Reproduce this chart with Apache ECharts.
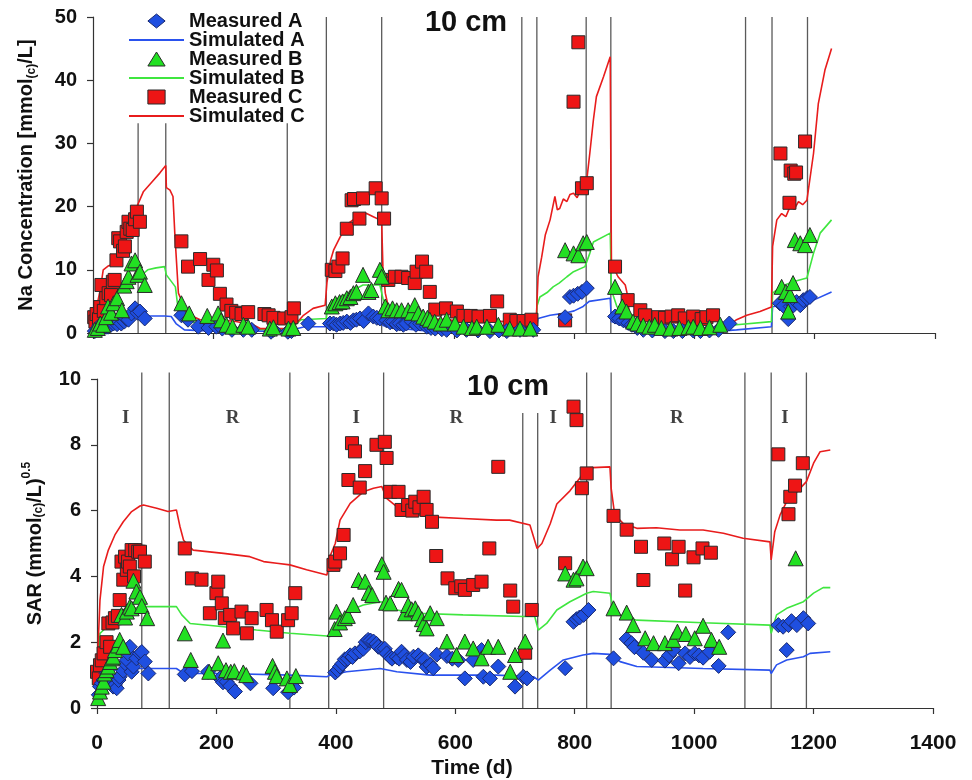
<!DOCTYPE html>
<html><head><meta charset="utf-8">
<script src="https://cdn.jsdelivr.net/npm/echarts@6/dist/echarts.min.js"></script>
<style>html,body{margin:0;padding:0;background:#fff}#chart{width:972px;height:780px}</style>
</head><body><div id="chart"></div>
<script>
// ---------- Phase boundaries (days) and labels ----------
const phaseDays = [75, 121, 323, 388, 480, 713, 738, 820, 861, 1085, 1129, 1188];
const naPhaseTop = [33.2, 33.2, 33.2, 50, 50, 50, 50, 50, 50, 50, 50, 50];
const sarPhaseTop = [10.2, 10.2, 10.2, 10.2, 10.2, 8.97, 8.97, 10.2, 10.2, 10.2, 10.2, 10.2];
const phaseLabels = ['I', 'R', 'I', 'R', 'I', 'R', 'I'];
const phaseLabelDays = [48, 227, 434, 602, 764, 971, 1152];
const phaseLabelLevel = 8.8;
const xTicks = [0, 200, 400, 600, 800, 1000, 1200, 1400];

// ---------- Na concentration (top) ----------
const naMeasA = [
[3,0.3],[8,0.6],[11,1.2],[16,0.8],[22,1.0],[25,1.0],[30,1.3],[34,1.5],[40,1.4],[47,1.5],[52,1.8],[55,2.3],[59,2.1],[64,3.1],[70,3.9],[74,3.2],[78,3.4],[86,2.3],
[147,2.8],[158,2.1],[175,1.0],[192,0.8],[205,1.0],[215,0.7],[231,0.5],[250,0.5],[264,0.5],[296,0.2],[300,0.5],[324,0.2],[330,0.3],[358,1.5],
[394,1.5],[400,1.5],[405,1.3],[411,1.5],[416,1.6],[422,1.8],[428,1.6],[433,2.0],[438,2.1],[444,2.3],[450,1.9],[458,3.1],[466,2.6],[472,2.4],[477,2.3],
[488,2.0],[494,1.7],[499,1.8],[505,1.4],[510,1.5],[516,1.3],[521,1.5],[530,1.8],[537,1.3],[544,1.5],[555,1.0],[562,0.8],[569,0.7],[580,0.6],[588,0.5],[605,0.4],[621,0.5],[640,0.4],[660,0.3],[675,0.4],[688,0.3],[710,0.5],[732,0.5],
[785,2.5],[793,5.7],[799,5.9],[806,6.2],[813,6.5],[821,7.1],
[868,2.6],[875,2.3],[882,2.0],[890,1.6],[896,1.3],[905,0.8],[915,0.5],[930,0.4],[951,0.3],[965,0.3],[980,0.3],[998,0.4],[1010,0.3],[1025,0.4],[1040,0.5],[1058,1.5],
[1142,4.7],[1148,4.3],[1156,2.2],[1160,4.2],[1165,4.4],[1170,4.9],[1176,4.4],[1181,5.2],[1187,5.5],[1192,5.7]
];
const naMeasB = [
[3,0.5],[8,0.8],[12,1.5],[17,1.3],[22,2.5],[25,4.2],[30,3.2],[34,4.7],[40,5.5],[48,3.6],[52,7.5],[56,8.2],[59,8.9],[64,11],[70,11.5],[74,9.2],[78,9.7],[86,7.6],
[147,4.7],[160,3.1],[190,2.7],[208,3.1],[213,2.0],[222,1.3],[232,1.0],[250,1.3],[258,1.0],[294,0.7],[300,0.9],[325,0.7],[333,0.8],
[397,4.2],[403,4.7],[410,4.9],[415,5.0],[422,5.5],[428,5.7],[433,6.3],[438,6.5],[449,9.2],[458,6.5],[463,6.8],[477,10],[480,8.9],
[486,4.2],[491,3.6],[498,3.9],[505,3.6],[513,3.6],[524,3.6],[530,3.2],[535,4.4],[541,3.1],[549,2.6],[556,2.4],[560,2.1],[568,1.8],[578,1.5],[588,2.1],[602,1.5],[616,1.0],[630,0.8],[638,1.0],[655,1.0],[674,1.3],[693,0.7],[710,0.7],[727,0.7],
[785,13.1],[799,12.6],[807,12.3],[815,14.2],[821,14.4],
[868,7.3],[880,4.2],[887,3.4],[898,1.8],[905,1.5],[915,1.2],[925,1.0],[934,1.3],[945,0.8],[960,0.7],[975,0.8],[990,0.9],[998,1.0],[1010,0.8],[1025,0.9],[1043,1.3],
[1145,7.3],[1152,6.5],[1156,3.4],[1159,6.0],[1164,7.9],[1167,14.7],[1176,14.2],[1184,13.9],[1192,15.5]
];
const naMeasC = [
[2,2.5],[4,1.8],[6,3.0],[10,2.2],[12,4.1],[14,7.6],[18,3.5],[22,5.5],[26,6.3],[30,6.0],[33,8.1],[36,8.4],[39,11.5],[42,15],[45,14.5],[50,13],[53,13.7],[56,16],[59,17.6],[62,16.5],[66,16.3],[70,18],[73,19.2],[78,17.6],
[147,14.5],[158,10.5],[178,11.7],[192,8.4],[200,10.8],[206,9.9],[211,6.2],[222,4.5],[230,3.5],[238,3.2],[247,3.0],[258,3.3],[285,3.0],[292,2.8],[300,2.4],[318,2.3],[330,2.5],[334,3.9],
[397,10],[403,9.8],[408,10.5],[415,11.8],[422,16.5],[430,21],[434,21.2],[443,18.1],[449,21.3],[470,22.9],[480,21.3],[484,18.1],
[491,8.4],[502,8.9],[513,8.9],[524,8.7],[535,7.9],[538,9.7],[547,11.3],[554,9.7],[560,6.5],[569,3.7],[587,3.9],[605,3.4],[616,2.7],[628,2.7],[641,2.6],[660,2.7],[672,5.0],[693,2.1],[704,1.9],[716,1.9],[729,2.1],
[785,2.0],[799,36.6],[807,46],[813,22.9],[821,23.7],
[868,10.5],[889,5.2],[910,3.6],[918,2.8],[940,2.5],[951,2.4],[962,2.6],[973,2.8],[984,2.3],[998,2.6],[1012,2.2],[1020,2.5],[1031,2.8],
[1143,28.4],[1158,20.6],[1160,25.7],[1166,25.2],[1169,25.4],[1184,30.3]
];
const naSimA = [
[0,0.2],[10,0.8],[25,1.5],[45,2.3],[58,2.7],[119,2.7],[130,2.6],[138,1.5],[152,0.5],[200,0.3],[323,0.3],[335,0.6],[352,1.0],[388,1.0],[395,1.4],[440,2.0],[477,2.3],[482,1.2],[500,0.8],[560,0.3],[713,0.3],[737,0.4],[740,2.3],[760,2.8],[782,3.1],[800,3.5],[815,4.2],[825,5.0],[860,5.5],[862,1.8],[893,0.7],[920,0.3],[1040,0.3],[1070,0.5],[1128,1.0],[1130,4.2],[1160,4.3],[1187,4.4],[1198,5.2],[1228,6.5]
];
const naSimB = [
[0,0.3],[5,1.5],[12,3.6],[28,5],[45,7.3],[60,7.9],[75,8.7],[91,10],[105,10.3],[119,10.5],[122,9.2],[137,7.3],[141,4.2],[150,2.1],[175,1.5],[213,1.0],[260,0.6],[323,0.5],[335,1.2],[346,2.1],[388,2.3],[390,4.0],[394,4.7],[411,5.7],[433,6.8],[449,7.6],[477,7.6],[482,5.5],[487,4.2],[500,3.0],[530,1.8],[560,1.0],[600,0.6],[713,0.6],[737,0.8],[738,4.2],[743,5.7],[755,6.4],[765,7.3],[775,7.9],[788,8.9],[799,9.7],[818,10.5],[826,12.6],[832,14.4],[860,15.8],[862,6.8],[871,4.2],[890,2.1],[910,1.0],[1040,0.7],[1070,1.3],[1128,1.8],[1130,6.3],[1145,7.4],[1164,8.1],[1187,8.7],[1198,12.6],[1209,15.8],[1228,17.9]
];
const naSimC = [
[0,1.5],[3,3.0],[8,5.0],[12,6.8],[17,10],[25,10.6],[37,11],[45,13.1],[56,15.8],[64,17.9],[73,20],[84,22.4],[98,23.9],[111,25.3],[121,26.5],[122,23],[128,22.6],[133,21.6],[136,15.8],[142,6.3],[147,5.2],[156,3.1],[178,2.1],[233,1.9],[266,1.3],[278,0.7],[322,0.7],[333,1.0],[350,2.8],[366,3.9],[386,4.4],[389,8],[395,11.5],[400,13.1],[411,15.2],[425,17.4],[444,18.7],[455,18.9],[466,18.4],[477,17.9],[480,17.5],[482,10.5],[486,6.3],[491,4.2],[505,3.3],[530,2.7],[560,2.3],[600,2.0],[650,1.9],[690,1.8],[713,1.8],[737,1.9],[738,4.4],[740,8.9],[746,12],[752,15.5],[760,17.9],[768,21.6],[772,19.5],[776,19.7],[782,21.2],[788,20.8],[793,21.9],[799,22.1],[805,21.4],[810,22.6],[816,22.8],[821,24.2],[826,28.4],[832,33.7],[837,37.4],[849,40.6],[860,43.7],[862,11],[873,8.9],[885,7.6],[888,6.3],[893,2.1],[910,1.2],[950,0.8],[1040,0.8],[1059,1.3],[1070,2.1],[1087,2.8],[1109,3.4],[1128,4.1],[1130,13.7],[1137,17.9],[1145,18.9],[1152,18.4],[1159,20],[1166,19.6],[1173,20.8],[1180,20.3],[1187,21],[1198,28.4],[1206,36.3],[1217,41.6],[1228,45]
];

// ---------- SAR (bottom) ----------
const sarMeasA = [
[3,0.4],[5,0.65],[8,0.75],[11,0.85],[16,1.05],[22,0.8],[27,0.65],[30,0.7],[33,0.6],[36,0.85],[38,0.95],[44,1.13],[47,1.36],[50,1.46],[52,1.66],[55,1.86],[58,1.1],[61,1.26],[66,1.51],[72,1.66],[75,1.7],[80,1.41],[86,1.05],
[147,1.02],[159,1.12],[186,1.1],[206,0.9],[211,0.78],[217,0.8],[223,0.67],[231,0.5],[257,0.75],[295,0.6],[320,0.48],[330,0.62],
[399,1.08],[403,1.15],[407,1.26],[411,1.35],[415,1.48],[420,1.5],[424,1.6],[428,1.55],[432,1.66],[440,1.72],[446,1.8],[450,2.0],[454,2.07],[458,2.05],[463,2.02],[468,1.95],[471,1.86],[477,1.8],
[482,1.8],[485,1.66],[491,1.55],[494,1.5],[502,1.55],[506,1.5],[510,1.71],[515,1.6],[519,1.46],[525,1.4],[530,1.56],[538,1.6],[544,1.5],[549,1.46],[552,1.25],[558,1.31],[563,1.21],[569,1.62],[586,1.58],[595,1.5],[605,1.46],[616,0.9],[630,1.46],[644,1.76],[647,0.95],[658,0.9],[672,1.26],[700,0.65],[714,0.95],[720,0.9],
[784,1.21],[798,2.62],[803,2.7],[808,2.75],[815,2.83],[823,2.98],
[865,1.51],[887,2.1],[895,1.97],[900,1.85],[915,1.68],[929,1.46],[951,1.44],[958,1.6],[965,1.76],[974,1.36],[985,1.66],[993,1.55],[1001,1.66],[1008,1.6],[1015,1.53],[1026,1.71],[1041,1.28],[1057,2.3],
[1141,2.52],[1149,2.47],[1155,1.76],[1158,2.52],[1163,2.64],[1172,2.52],[1183,2.73],[1191,2.57]
];
const sarMeasB = [
[2,0.3],[5,0.5],[8,0.65],[11,0.8],[13,1.05],[16,1.15],[19,1.26],[22,1.4],[25,1.51],[27,1.56],[30,1.76],[35,1.9],[38,2.07],[41,2.83],[44,1.86],[47,2.75],[50,2.93],[55,3.08],[58,3.03],[61,3.87],[66,3.54],[72,3.38],[75,3.1],[84,2.73],
[147,2.27],[157,1.46],[188,1.1],[203,1.36],[211,2.05],[216,1.15],[224,1.1],[230,1.12],[245,1.08],[250,1.0],[294,1.28],[298,1.1],[301,0.97],[318,0.9],[323,0.7],[333,0.97],
[398,2.4],[401,2.93],[407,2.6],[415,2.73],[420,2.8],[429,3.13],[438,3.89],[449,3.84],[455,3.5],[461,3.43],[477,4.37],[480,4.14],
[484,3.2],[491,3.18],[505,3.62],[510,3.59],[516,2.88],[521,3.13],[527,3.0],[533,3.03],[538,2.88],[544,2.7],[547,2.55],[552,2.42],[558,2.88],[569,2.73],[586,2.02],[602,1.61],[616,2.02],[630,1.81],[644,1.51],[655,1.86],[672,1.86],[692,1.1],[700,1.61],[717,2.02],
[784,4.09],[798,3.9],[803,3.94],[814,4.3],[820,4.25],
[865,3.03],[887,2.9],[898,2.52],[918,2.12],[932,1.97],[951,1.97],[965,2.07],[972,2.32],[986,2.25],[1001,2.12],[1015,2.5],[1029,2.07],[1042,1.86],
[1170,4.55]
];
const sarMeasC = [
[0,1.1],[3,0.9],[5,1.3],[8,1.45],[11,1.66],[16,2.0],[19,2.57],[22,1.86],[26,2.6],[30,2.73],[35,2.8],[38,3.28],[41,4.45],[44,3.9],[47,4.6],[50,4.2],[52,4.45],[55,4.3],[58,4.8],[62,4.0],[64,4.8],[69,4.75],[72,4.75],[80,4.45],
[147,4.85],[159,3.94],[175,3.9],[189,2.88],[200,3.49],[203,3.84],[209,3.18],[214,2.73],[223,2.83],[228,2.42],[242,2.93],[251,2.27],[259,2.73],[284,2.98],[293,2.67],[301,2.32],[320,2.67],[326,2.88],[332,3.49],
[396,4.35],[399,4.45],[407,4.7],[413,5.26],[421,6.93],[427,8.05],[432,7.8],[440,6.7],[449,7.2],[468,8.0],[482,8.09],[485,7.6],
[491,6.57],[505,6.57],[510,6.02],[521,6.17],[528,6.0],[533,6.27],[540,6.1],[547,6.42],[552,6.02],[561,5.66],[568,4.62],[587,3.94],[600,3.64],[610,3.7],[616,3.59],[630,3.74],[644,3.84],[657,4.85],[672,7.33],[692,3.57],[697,3.08],[717,1.68],[728,2.98],
[784,4.4],[798,9.16],[803,8.75],[812,6.68],[820,7.13],
[865,5.84],[887,5.42],[911,4.9],[915,3.89],[950,5.0],[963,4.52],[974,4.9],[985,3.57],[999,4.58],[1014,4.85],[1028,4.72],
[1141,7.71],[1158,5.89],[1161,6.42],[1169,6.76],[1182,7.44]
];
const sarSimA = [
[0,0.3],[5,0.9],[11,1.1],[22,1.15],[72,1.2],[133,1.2],[145,1.05],[212,1.05],[323,1.0],[385,0.95],[390,1.0],[418,1.1],[474,1.2],[502,1.1],[558,1.0],[669,1.0],[731,0.95],[739,0.85],[759,1.15],[781,1.46],[814,1.61],[831,1.66],[859,1.63],[876,1.41],[904,1.26],[1015,1.2],[1127,1.15],[1129,1.05],[1138,1.31],[1155,1.46],[1183,1.56],[1194,1.66],[1228,1.71]
];
const sarSimB = [
[0,0.3],[3,1.5],[5,2.27],[11,2.37],[27,2.78],[50,2.98],[72,3.08],[133,3.08],[142,2.83],[156,2.57],[212,2.47],[267,2.37],[323,2.27],[385,2.19],[390,2.17],[401,2.57],[424,2.98],[446,3.13],[474,3.23],[482,3.2],[502,2.98],[535,2.88],[613,2.83],[714,2.78],[733,2.78],[739,2.37],[753,2.57],[770,2.98],[792,3.23],[820,3.49],[831,3.54],[859,3.49],[862,3.23],[876,2.83],[904,2.67],[1015,2.59],[1127,2.52],[1129,2.27],[1138,2.83],[1155,3.03],[1183,3.23],[1200,3.49],[1216,3.66],[1228,3.66]
];
const sarSimC = [
[0,0.65],[2,1.97],[5,3.28],[11,4.3],[19,4.8],[30,5.26],[44,5.66],[58,5.97],[72,6.14],[78,6.17],[100,6.07],[119,5.97],[133,6.02],[139,5.51],[145,5.1],[161,4.8],[212,4.7],[256,4.6],[279,4.45],[301,4.4],[323,4.35],[351,4.2],[385,4.04],[390,4.6],[399,5.0],[407,5.71],[424,6.22],[446,6.57],[463,6.68],[477,6.73],[485,6.37],[502,6.12],[524,5.92],[558,5.81],[613,5.76],[669,5.71],[691,5.71],[725,5.56],[737,4.85],[745,5.0],[759,5.6],[770,6.2],[792,6.6],[809,7.0],[820,7.3],[859,7.33],[861,6.68],[867,5.87],[881,5.61],[904,5.46],[937,5.48],[976,5.41],[1015,5.41],[1049,5.31],[1082,5.16],[1127,5.05],[1129,4.5],[1135,5.36],[1144,5.87],[1155,6.27],[1172,6.57],[1188,6.88],[1200,7.44],[1211,7.79],[1228,7.84]
];

// ---------- Styles ----------
const FONT = 'Liberation Sans';
const colA = '#1f4fe0', colB = '#22e022', colC = '#ee1515';
const lineA = '#2a52ee', lineB = '#3fe63f', lineC = '#e81c1c';
const markBorder = '#2a2a2a';

function phaseData(tops) {
  const d = [];
  phaseDays.forEach((x, i) => { d.push([x, 0]); d.push([x, tops[i]]); d.push([x, '-']); });
  return d;
}

function panelSeries(gi, measA, measB, measC, simA, simB, simC, tops) {
  const base = { xAxisIndex: gi, yAxisIndex: gi };
  return [
    Object.assign({ type: 'line', name: 'phase', data: phaseData(tops), symbol: 'none', clip: false,
      lineStyle: { color: '#5a5a5a', width: 1.3 }, silent: true, z: 1, connectNulls: false }, base),
    Object.assign({ type: 'line', name: 'Simulated A', data: simA, symbol: 'none', lineStyle: { color: lineA, width: 1.6 }, itemStyle: { color: lineA }, z: 2 }, base),
    Object.assign({ type: 'line', name: 'Simulated B', data: simB, symbol: 'none', lineStyle: { color: lineB, width: 1.6 }, itemStyle: { color: lineB }, z: 2 }, base),
    Object.assign({ type: 'line', name: 'Simulated C', data: simC, symbol: 'none', lineStyle: { color: lineC, width: 1.6 }, itemStyle: { color: lineC }, z: 2 }, base),
    Object.assign({ type: 'scatter', name: 'Measured C', data: measC, symbol: 'rect', symbolSize: 13,
      itemStyle: { color: colC, borderColor: markBorder, borderWidth: 1, opacity: 1 }, z: 3 }, base),
    Object.assign({ type: 'scatter', name: 'Measured A', data: measA, symbol: 'diamond', symbolSize: 15,
      itemStyle: { color: colA, borderColor: '#1a2a70', borderWidth: 1, opacity: 1 }, z: 4 }, base),
    Object.assign({ type: 'scatter', name: 'Measured B', data: measB, symbol: 'triangle', symbolSize: 15,
      itemStyle: { color: colB, borderColor: markBorder, borderWidth: 1, opacity: 1 }, z: 5 }, base)
  ];
}

const axisLineStyle = { lineStyle: { color: '#333', width: 1.2 } };
const tickStyle = { show: true, length: 6, inside: false, lineStyle: { color: '#333', width: 1.2 } };
const labelFont = { fontFamily: FONT, fontWeight: 'bold', fontSize: 20, color: '#111' };
const plainNum = v => String(v);

const chart = echarts.init(document.getElementById('chart'), null, { renderer: 'canvas' });
const series = [].concat(
  panelSeries(0, naMeasA, naMeasB, naMeasC, naSimA, naSimB, naSimC, naPhaseTop),
  panelSeries(1, sarMeasA, sarMeasB, sarMeasC, sarSimA, sarSimB, sarSimC, sarPhaseTop),
  [{
    type: 'scatter', xAxisIndex: 1, yAxisIndex: 1, name: 'phaseLabels', silent: true,
    symbolSize: 1, itemStyle: { color: 'rgba(0,0,0,0)' }, z: 6,
    data: phaseLabels.map((t, i) => ({ name: t, value: [phaseLabelDays[i], phaseLabelLevel] })),
    label: { show: true, position: 'inside', formatter: p => p.name, color: '#111',
      fontFamily: 'Liberation Serif', fontWeight: 'bold', fontSize: 19 }
  }]
);

const option = {
  animation: false,
  backgroundColor: '#fff',
  grid: [
    { left: 93, top: 17, width: 842, height: 316 },
    { left: 97, top: 379, width: 836, height: 329 }
  ],
  xAxis: [
    { gridIndex: 0, type: 'value', min: xTicks[0], max: xTicks[xTicks.length - 1], interval: 200,
      axisLine: axisLineStyle, axisTick: tickStyle, axisLabel: { show: false }, splitLine: { show: false } },
    { gridIndex: 1, type: 'value', min: xTicks[0], max: xTicks[xTicks.length - 1], interval: 200,
      axisLine: axisLineStyle, axisTick: tickStyle, splitLine: { show: false },
      axisLabel: Object.assign({}, labelFont, { fontSize: 21, margin: 25, formatter: plainNum }),
      name: 'Time (d)', nameLocation: 'middle', nameGap: 50,
      nameTextStyle: { fontFamily: FONT, fontWeight: 'bold', fontSize: 21, color: '#111', padding: [0, 86, 0, 0] } }
  ],
  yAxis: [
    { gridIndex: 0, type: 'value', min: 0, max: 50, interval: 10,
      axisLine: Object.assign({ show: true }, axisLineStyle), axisTick: tickStyle, splitLine: { show: false },
      axisLabel: Object.assign({ margin: 16, formatter: plainNum }, labelFont),
      name: '{a|Na Concentration [mmol}{s|(c)}{a|/L]}', nameLocation: 'middle', nameGap: 55, nameRotate: 90,
      nameTextStyle: { rich: {
        a: { fontFamily: FONT, fontWeight: 'bold', fontSize: 20, color: '#111', lineHeight: 22, verticalAlign: 'top' },
        s: { fontFamily: FONT, fontWeight: 'bold', fontSize: 12, color: '#111', lineHeight: 12, verticalAlign: 'bottom' }
      } } },
    { gridIndex: 1, type: 'value', min: 0, max: 10, interval: 2,
      axisLine: Object.assign({ show: true }, axisLineStyle), axisTick: tickStyle, splitLine: { show: false },
      axisLabel: Object.assign({ margin: 16, formatter: plainNum }, labelFont),
      name: '{a|SAR (mmol}{s|(c)}{a|/L)}{p|0.5}', nameLocation: 'middle', nameGap: 52, nameRotate: 90,
      nameTextStyle: { rich: {
        a: { fontFamily: FONT, fontWeight: 'bold', fontSize: 20, color: '#111', lineHeight: 24, verticalAlign: 'bottom' },
        s: { fontFamily: FONT, fontWeight: 'bold', fontSize: 12, color: '#111', lineHeight: 12, verticalAlign: 'bottom' },
        p: { fontFamily: FONT, fontWeight: 'bold', fontSize: 12, color: '#111', lineHeight: 12, verticalAlign: 'top' }
      } } }
  ],
  legend: {
    orient: 'vertical', left: 129, top: 11, padding: 0, itemGap: -1,
    itemWidth: 55, itemHeight: 14, symbolKeepAspect: true, selectedMode: false,
    textStyle: { fontFamily: FONT, fontWeight: 'bold', fontSize: 20, color: '#111', lineHeight: 18 },
    data: [
      { name: 'Measured A', icon: 'path://M8,0L16,6.5L8,13L0,6.5Z', itemStyle: { color: colA, borderColor: '#1a2a70', borderWidth: 1 } },
      { name: 'Simulated A', icon: 'path://M0,0H55V2H0Z', itemStyle: { color: lineA, borderWidth: 0 } },
      { name: 'Measured B', icon: 'path://M8,0L16,13L0,13Z', itemStyle: { color: colB, borderColor: markBorder, borderWidth: 1 } },
      { name: 'Simulated B', icon: 'path://M0,0H55V2H0Z', itemStyle: { color: lineB, borderWidth: 0 } },
      { name: 'Measured C', icon: 'path://M0,0H16V13H0Z', itemStyle: { color: colC, borderColor: markBorder, borderWidth: 1 } },
      { name: 'Simulated C', icon: 'path://M0,0H55V2H0Z', itemStyle: { color: lineC, borderWidth: 0 } }
    ]
  },
  graphic: [
    { type: 'text', x: 466, y: 23, style: { text: '10 cm', font: 'bold 29px "Liberation Sans"', fill: '#111', align: 'center', verticalAlign: 'middle' } },
    { type: 'text', x: 508, y: 387, style: { text: '10 cm', font: 'bold 29px "Liberation Sans"', fill: '#111', align: 'center', verticalAlign: 'middle' } }
  ],
  series: series
};
chart.setOption(option);
</script>
</body></html>
